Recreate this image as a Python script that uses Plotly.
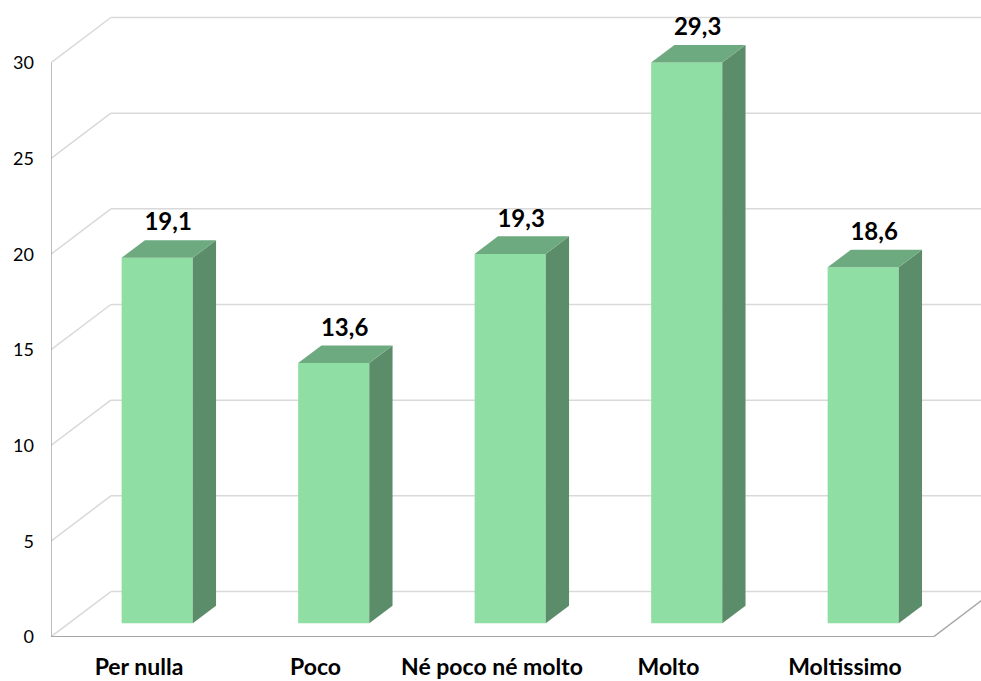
import plotly.graph_objects as go

# Survey answers and their percentages
categories = ["Per nulla", "Poco", "Né poco né molto", "Molto", "Moltissimo"]
values = [19.1, 13.6, 19.3, 29.3, 18.6]
value_labels = ["19,1", "13,6", "19,3", "29,3", "18,6"]
y_ticks = [0, 5, 10, 15, 20, 25, 30]

# Oblique projection: how far the back wall sits from the front plane, in axis units
DEPTH_X = 0.3405
DEPTH_Y = 2.376
BAR_FRONT = 0.303
BAR_BACK = 0.69
BAR_WIDTH = 0.403

FRONT = "#8fdea3"
SIDE = "#5c8d6a"
TOP = "#6eaa7f"
GRID = "#d9d9d9"
AXIS = "#a6a6a6"
TEXT = "#000000"
FONT = "Lato"


def line(x0, y0, x1, y1, color, width):
    return dict(type="line", xref="x", yref="y", layer="below",
                x0=x0, y0=y0, x1=x1, y1=y1,
                line=dict(color=color, width=width))


left, right = -0.5, len(categories) - 0.5
shapes = []

# Gridlines run along the left wall, then across the back wall
for tick in y_ticks:
    shapes.append(line(left, tick, left + DEPTH_X, tick + DEPTH_Y, GRID, 1.5))
    shapes.append(line(left + DEPTH_X, tick + DEPTH_Y, 5.2, tick + DEPTH_Y, GRID, 1.5))

# Front edges of the box
shapes.append(line(left, 0, left, y_ticks[-1], AXIS, 2))
shapes.append(line(left, 0, right, 0, AXIS, 2))
shapes.append(line(right, 0, right + DEPTH_X, DEPTH_Y, AXIS, 1.5))

fig = go.Figure()

bar_x = [i + BAR_FRONT * DEPTH_X for i in range(len(categories))]
bar_base = BAR_FRONT * DEPTH_Y
fig.add_trace(go.Bar(
    x=bar_x, y=values, base=bar_base, width=BAR_WIDTH,
    marker=dict(color=FRONT, line=dict(width=0)),
    hoverinfo="skip", showlegend=False,
))

depth_span_x = (BAR_BACK - BAR_FRONT) * DEPTH_X
depth_span_y = (BAR_BACK - BAR_FRONT) * DEPTH_Y

# Side and top faces of each bar
for cx, val in zip(bar_x, values):
    x0, x1 = cx - BAR_WIDTH / 2, cx + BAR_WIDTH / 2
    top = bar_base + val
    fig.add_trace(go.Scatter(
        x=[x1, x1 + depth_span_x, x1 + depth_span_x, x1, x1],
        y=[bar_base, bar_base + depth_span_y, top + depth_span_y, top, bar_base],
        mode="lines", fill="toself", fillcolor=SIDE, line=dict(width=0),
        hoverinfo="skip", showlegend=False,
    ))
    fig.add_trace(go.Scatter(
        x=[x0, x1, x1 + depth_span_x, x0 + depth_span_x, x0],
        y=[top, top, top + depth_span_y, top + depth_span_y, top],
        mode="lines", fill="toself", fillcolor=TOP, line=dict(width=0),
        hoverinfo="skip", showlegend=False,
    ))

# Value labels sit above the bar tops, lifted a little clear of the top face
fig.add_trace(go.Scatter(
    x=[cx + depth_span_x / 2 - 0.004 for cx in bar_x],
    y=[bar_base + v + depth_span_y + 0.2 for v in values],
    mode="text", text=value_labels, textposition="top center",
    textfont=dict(family=FONT, size=24, color=TEXT, weight="bold"),
    hoverinfo="skip", showlegend=False, cliponaxis=False,
))

fig.update_layout(
    width=981, height=681,
    margin=dict(l=51, r=0, t=0, b=43.5),
    paper_bgcolor="white", plot_bgcolor="white",
    shapes=shapes, showlegend=False,
    xaxis=dict(
        range=[-0.4986, 4.7705], tickmode="array", automargin=False,
        tickvals=list(range(len(categories))), ticktext=categories,
        showgrid=False, zeroline=False, showline=False, ticks="",
        tickfont=dict(family=FONT, size=23, color=TEXT, weight="bold"),
        ticklabelstandoff=14,
    ),
    yaxis=dict(
        range=[0, 33.29], tickmode="array", tickvals=y_ticks, automargin=False,
        showgrid=False, zeroline=False, showline=False, ticks="",
        tickfont=dict(family=FONT, size=18, color=TEXT),
        ticklabelstandoff=16,
    ),
)

fig.write_html("out.html")
